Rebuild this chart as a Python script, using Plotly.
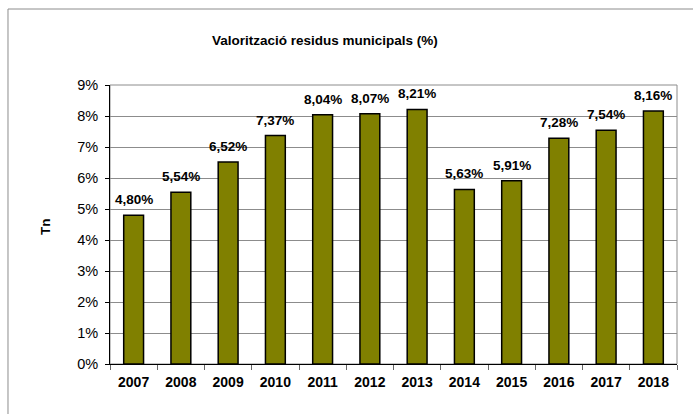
import plotly.graph_objects as go

years = ["2007", "2008", "2009", "2010", "2011", "2012", "2013", "2014", "2015", "2016", "2017", "2018"]
values = [4.80, 5.54, 6.52, 7.37, 8.04, 8.07, 8.21, 5.63, 5.91, 7.28, 7.54, 8.16]
y_ticks = [0, 1, 2, 3, 4, 5, 6, 7, 8, 9]
title_text = "Valorització residus municipals (%)"
y_title = "Tn"

labels = [f"{v:.2f}".replace(".", ",") + "%" for v in values]

FONT = "Liberation Sans, Arial, sans-serif"

fig = go.Figure()
fig.add_trace(go.Bar(
    x=years, y=values, width=0.42,
    marker=dict(color="#808000", line=dict(color="#000000", width=1.5)),
    hoverinfo="skip",
))

annotations = []
for i, (v, lab) in enumerate(zip(values, labels)):
    annotations.append(dict(
        x=i, y=v, xref="x", yref="y", text=f"<b>{lab}</b>", showarrow=False,
        yanchor="bottom", xanchor="center", yshift=6,
        font=dict(family=FONT, size=13.5, color="#000000"),
    ))
annotations.append(dict(
    x=-0.1146, y=0.491, xref="paper", yref="paper", text=f"<b>{y_title}</b>",
    showarrow=False, textangle=-90, xanchor="center", yanchor="middle",
    font=dict(family=FONT, size=13.5, color="#000000"),
))
annotations.append(dict(
    x=0.379, y=1.161, xref="paper", yref="paper", text=f"<b>{title_text}</b>",
    showarrow=False, xanchor="center", yanchor="middle",
    font=dict(family=FONT, size=13.5, color="#000000"),
))

fig.update_layout(
    width=693, height=414,
    margin=dict(l=110, r=16, t=85, b=50),
    paper_bgcolor="white", plot_bgcolor="white",
    showlegend=False,
    annotations=annotations,
    shapes=[
        dict(type="rect", xref="paper", yref="paper", x0=0, x1=1, y0=0, y1=1,
             line=dict(color="#8c8c8c", width=1), layer="below"),
        dict(type="rect", xref="paper", yref="paper", x0=-0.1799, x1=1.2, y0=-0.3, y1=1.2724,
             line=dict(color="#8c8c8c", width=1), layer="below"),
    ],
    xaxis=dict(
        type="category", range=[-0.5, len(years) - 0.5], autorange=False,
        showline=True, linecolor="#000000", linewidth=1,
        ticks="outside", tickson="boundaries", ticklen=5, tickcolor="#666666",
        tickangle=0, ticklabelstandoff=5,
        tickfont=dict(family=FONT, size=14, color="#000000"),
        showgrid=False, zeroline=False, fixedrange=True,
        tickprefix="<b>", ticksuffix="</b>",
    ),
    yaxis=dict(
        range=[0, 9], autorange=False, tickvals=y_ticks, ticktext=[f"{t}%" for t in y_ticks],
        showline=True, linecolor="#000000", linewidth=1,
        ticks="outside", ticklen=4, tickcolor="#000000", ticklabelstandoff=4,
        tickfont=dict(family=FONT, size=14.5, color="#000000"),
        showgrid=True, gridcolor="#8c8c8c", gridwidth=1, zeroline=False,
        fixedrange=True,
    ),
)

fig.write_html("out.html")
